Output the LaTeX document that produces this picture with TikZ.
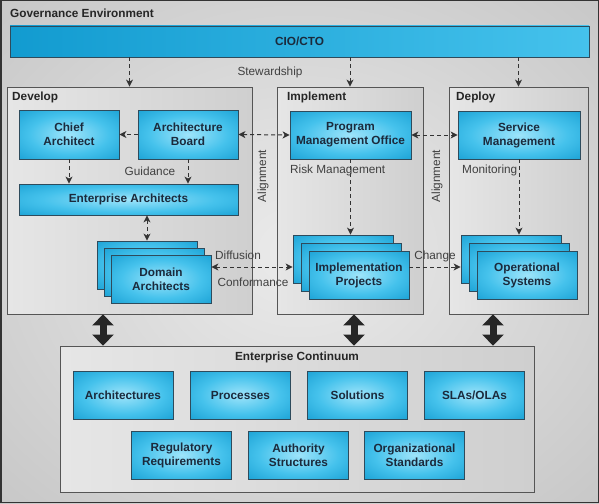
\documentclass[tikz,border=0pt]{standalone}
\usepackage{fontspec}
\setmainfont{Liberation Sans}
\usetikzlibrary{arrows.meta,positioning}

\definecolor{boxhi}{HTML}{9EE4FA}
\definecolor{boxmid}{HTML}{45C2EC}
\definecolor{boxlo}{HTML}{129BD0}
\definecolor{boxline}{HTML}{2E4B5C}
\definecolor{boxtext}{HTML}{1B2A3C}
\definecolor{lbltext}{HTML}{404040}
\definecolor{bghi}{HTML}{EBEBEB}
\definecolor{bglo}{HTML}{B4B4B4}
\definecolor{panelA}{HTML}{E6E6E6}
\definecolor{panelB}{HTML}{CFCFCF}
\definecolor{panelline}{HTML}{555555}
\definecolor{arrowgray}{HTML}{333333}

\pgfdeclareradialshading{boxglow}{\pgfpoint{0bp}{0bp}}{color(0bp)=(boxhi); color(20bp)=(boxmid); color(40bp)=(boxlo); color(50bp)=(boxlo)}
\pgfdeclareradialshading{bgglow}{\pgfpoint{0bp}{0bp}}{color(0bp)=(bghi); color(55bp)=(bglo); color(70bp)=(bglo)}

\tikzset{
  blk/.style={draw=boxline, line width=0.8pt, shade, shading=boxglow,
    text=boxtext, font=\fontsize{11.8}{14}\selectfont\bfseries, align=center,
    minimum width=100pt, minimum height=48pt, inner sep=1pt},
  panel/.style={draw=panelline, line width=0.8pt, left color=panelA, right color=panelB},
  title/.style={font=\fontsize{11.8}{14}\selectfont\bfseries, text=black!85, inner sep=0pt},
  lbl/.style={font=\fontsize{11.8}{14}\selectfont, text=lbltext, inner sep=0pt},
  dasharr/.style={draw=arrowgray, line width=1pt, dash pattern=on 4pt off 3pt,
    -{Stealth[length=7pt,width=7pt,inset=2pt]}},
  dashboth/.style={dasharr, {Stealth[length=7pt,width=7pt,inset=2pt]}-{Stealth[length=7pt,width=7pt,inset=2pt]}},
  bigarr/.style={draw=black!85, line width=7pt,
    {Triangle[length=11pt,width=21pt]}-{Triangle[length=11pt,width=21pt]}}
}

\begin{document}
\begin{tikzpicture}[x=1pt,y=-1pt]
  \useasboundingbox (0,0) rectangle (599,503);
  % background
  \shade[shading=bgglow] (0,0) rectangle (599,503);
  \draw[black!80, line width=1.5pt] (0.75,0.75) rectangle (598.25,502.25);
  \node[title, anchor=west] (gov) at (10,13) {Governance Environment};

  \node[blk, shading=axis, left color=boxlo, middle color=boxhi!70!boxmid, right color=boxmid,
    minimum width=579pt, minimum height=31pt] (cio) at (299.5,41.5) {CIO/CTO};

  % panels
  \node[panel, minimum width=245pt, minimum height=227pt] (develop) at (129.5,200.5) {};
  \node[panel, minimum width=146pt, minimum height=227pt] (implement) at (350,200.5) {};
  \node[panel, minimum width=139pt, minimum height=227pt] (deploy) at (518.5,200.5) {};
  \node[panel, minimum width=474pt, minimum height=146pt] (cont) at (297,419) {};
  \node[title, anchor=west] at (12,97) {Develop};
  \node[title, anchor=west] at (287,97) {Implement};
  \node[title, anchor=west] at (456,97) {Deploy};
  \node[title] at (297,357) {Enterprise Continuum};

  % develop
  \node[blk, minimum height=49pt] (chief) at (69,134.5) {Chief\\Architect};
  \node[blk, minimum height=49pt] (board) at (188,134.5) {Architecture\\Board};
  \node[blk, minimum width=219pt, minimum height=31pt] (ea) at (128.5,199.5) {Enterprise Architects};
  \node[blk] (domain3) at (147,265) {};
  \node[blk] (domain2) at (154,272) {};
  \node[blk] (domain) at (161,279) {Domain\\Architects};

  % implement
  \node[blk, minimum width=121pt] (pmo) at (350.5,135) {Program\\Management Office};
  \node[blk] (impl3) at (343,259) {};
  \node[blk] (impl2) at (351,267) {};
  \node[blk] (impl) at (359,275) {Implementation\\Projects};

  % deploy
  \node[blk, minimum width=122pt] (smgmt) at (519,135) {Service\\Management};
  \node[blk] (ops3) at (511,259) {};
  \node[blk] (ops2) at (519,267) {};
  \node[blk] (ops) at (527,275) {Operational\\Systems};

  % enterprise continuum
  \node[blk] (archs) at (123,395) {Architectures};
  \node[blk] (procs) at (240.5,395) {Processes};
  \node[blk] (sols) at (357.5,395) {Solutions};
  \node[blk] (slas) at (474.5,395) {SLAs/OLAs};
  \node[blk] (reg) at (181.5,455) {Regulatory\\Requirements};
  \node[blk] (auth) at (298.5,455) {Authority\\Structures};
  \node[blk] (orgs) at (414.5,455) {Organizational\\Standards};

  % connectors
  \draw[dasharr] (cio.south -| develop.north) -- (develop.north);
  \draw[dasharr] (cio.south -| implement.north) -- (implement.north);
  \draw[dasharr] (cio.south -| deploy.north) -- (deploy.north);
  \draw[dasharr] (board.west) -- (chief.east);
  \draw[dashboth] (board.east) -- (pmo.west);
  \draw[dashboth] (pmo.east) -- (smgmt.west);
  \draw[dasharr] (chief.south) -- (chief.south |- ea.north);
  \draw[dasharr] (board.south) -- (board.south |- ea.north);
  \draw[dashboth] (domain3.north |- ea.south) -- (domain3.north);
  \draw[dashboth] (domain.east |- impl2) -- (impl3.west |- impl2);
  \draw[dasharr] (pmo.south) -- (pmo.south |- impl3.north);
  \draw[dasharr] (smgmt.south) -- (smgmt.south |- ops3.north);
  \draw[dasharr] (impl.east |- impl2) -- (ops3.west |- impl2);

  \coordinate (t1) at (103,0);
  \coordinate (t2) at (354,0);
  \coordinate (t3) at (493,0);
  \draw[bigarr] (develop.south -| t1) -- (cont.north -| t1);
  \draw[bigarr] (implement.south -| t2) -- (cont.north -| t2);
  \draw[bigarr] (deploy.south -| t3) -- (cont.north -| t3);

  % labels
  \node[lbl] (stew) at (270,72) {Stewardship};
  \node[lbl] (guid) at (150,171) {Guidance};
  \node[lbl, anchor=west] (risk) at (290,170) {Risk Management};
  \node[lbl, anchor=west] (moni) at (462,170) {Monitoring};
  \node[lbl] (diff) at (238,255) {Diffusion};
  \node[lbl] (conf) at (253,282) {Conformance};
  \node[lbl] (chg) at (435,256) {Change};
  \node[lbl, rotate=90] (align1) at (263,176) {Alignment};
  \node[lbl, rotate=90] (align2) at (437,176) {Alignment};
\end{tikzpicture}
\end{document}
